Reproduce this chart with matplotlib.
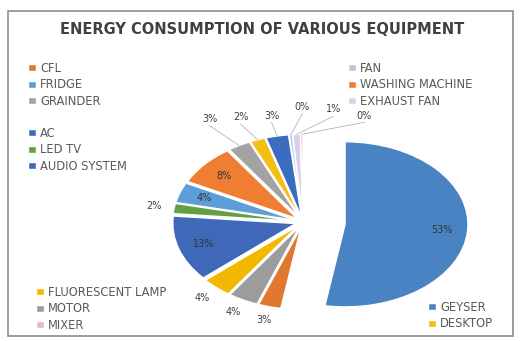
import numpy as np
import matplotlib.pyplot as plt
from matplotlib.patches import Rectangle

# datos del grafico (porcentaje de consumo, en orden horario desde las 12)
equipos = ['GEYSER', 'CFL', 'MOTOR', 'FLUORESCENT LAMP', 'AUDIO SYSTEM', 'LED TV',
           'FRIDGE', 'WASHING MACHINE', 'GRAINDER', 'DESKTOP', 'AC', 'FAN',
           'EXHAUST FAN', 'MIXER']
consumo = [53, 3, 4, 4, 13, 2, 4, 8, 3, 2, 3, 0.4, 1, 0.3]
colores = ['#4A83C4', '#E0782F', '#9C9C9C', '#F2B800', '#3F69B8', '#62A040',
           '#5E9ED8', '#EF7E32', '#A3A3A3', '#F5BE12', '#3A6CC0', '#B7C7DE',
           '#D6D0EA', '#E8B8C8']

# bloques de la leyenda tal como estan repartidos en la imagen
bloques = [
    (['CFL', 'FRIDGE', 'GRAINDER'], 28, 62),
    (['AC', 'LED TV', 'AUDIO SYSTEM'], 28, 127),
    (['FLUORESCENT LAMP', 'MOTOR', 'MIXER'], 36, 286),
    (['GEYSER', 'DESKTOP'], 428, 301),
    (['FAN', 'WASHING MACHINE', 'EXHAUST FAN'], 348, 62),
]
etiquetas_dentro = ['GEYSER', 'AUDIO SYSTEM', 'WASHING MACHINE', 'FRIDGE']

W, H = 522, 341
fig = plt.figure(figsize=(W / 100, H / 100), dpi=100)
fig.patches.append(Rectangle((8 / W, 5 / H), 505 / W, 325 / H, transform=fig.transFigure,
                             fill=False, edgecolor='#8C8C8C', linewidth=1.2))

# ejes: 128 px por unidad en x, 86 px por unidad en y (el original esta estirado)
ax = fig.add_axes([(303 - 1.3 * 128) / W, 7.2 / H, 2.8 * 128 / W, 2.65 * 86 / H])
explode = [0.33 if e == 'GEYSER' else 0.06 for e in equipos]
wedges, _ = ax.pie(consumo, colors=colores, explode=explode, startangle=90,
                   counterclock=False, radius=0.96,
                   wedgeprops=dict(edgecolor='white', linewidth=1))
ax.set_aspect('auto')
ax.set_xlim(-1.3, 1.5)
ax.set_ylim(-1.3, 1.35)

total = sum(consumo)
arriba = []
for w, e, v in zip(wedges, equipos, consumo):
    ang = np.deg2rad((w.theta1 + w.theta2) / 2)
    cx, cy = w.center
    txt = '%.0f%%' % (100 * v / total)
    if e in etiquetas_dentro:
        ax.text(cx + 0.76 * np.cos(ang), cy + 0.76 * np.sin(ang), txt, ha='center',
                va='center', fontsize=7, color='#333333')
    elif np.sin(ang) > 0.8:
        arriba.append((w, ang, txt))
    else:
        ax.text(cx + 1.12 * np.cos(ang), cy + 1.12 * np.sin(ang), txt, ha='center',
                va='center', fontsize=7, color='#404040')

# etiquetas de las porciones pequenas de arriba, repartidas con lineas guia
xs = np.linspace(-0.73, 0.48, len(arriba))
ys = [1.14, 1.16, 1.18, 1.28, 1.25, 1.18]
for (w, ang, txt), x, y in zip(arriba, xs, ys):
    cx, cy = w.center
    px, py = cx + 0.96 * np.cos(ang), cy + 0.96 * np.sin(ang)
    ax.plot([px, x], [py, y - 0.02], color='#A6A6A6', lw=0.5)
    ax.text(x, y, txt, ha='center', va='bottom', fontsize=7, color='#404040')

fig.text(262 / W, 1 - 30 / H, 'ENERGY CONSUMPTION OF VARIOUS EQUIPMENT', ha='center',
         va='center', fontsize=10.5, fontweight='bold', color='#404040')

for nombres, x0, y0 in bloques:
    handles = [wedges[equipos.index(n)] for n in nombres]
    fig.legend(handles, nombres, loc='upper left', bbox_to_anchor=(x0 / W, 1 - y0 / H),
               frameon=False, fontsize=8.3, handlelength=0.7, handleheight=0.55,
               handletextpad=0.35, labelspacing=0.3, borderpad=0, borderaxespad=0,
               labelcolor='#595959')

fig.savefig('out.png', dpi=100)
